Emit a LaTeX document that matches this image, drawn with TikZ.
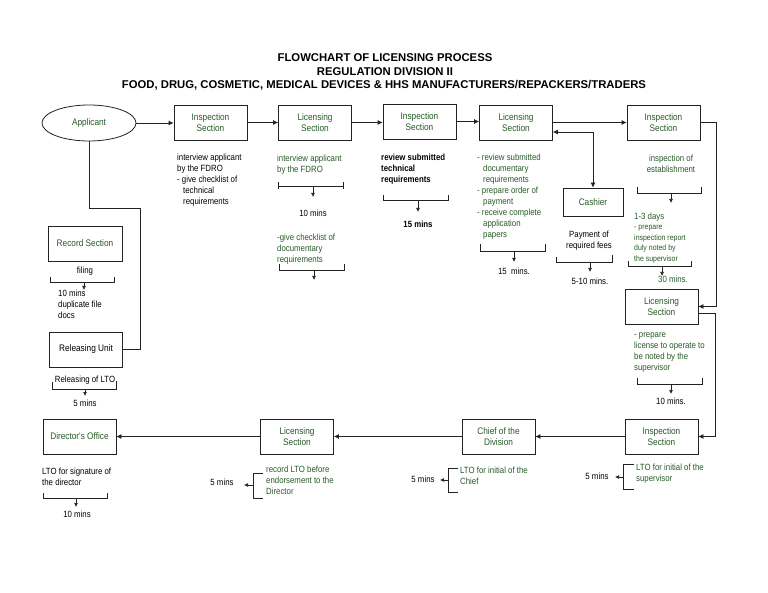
\documentclass[tikz,border=0pt]{standalone}
\usepackage{fontspec}
\setmainfont{Liberation Sans}
\newfontfamily\narrowfont[FakeStretch=0.87]{Liberation Sans}
\usetikzlibrary{arrows.meta,shapes.geometric}
\definecolor{tgreen}{RGB}{40,90,40}
\definecolor{lineclr}{RGB}{35,35,35}
\tikzset{
  box/.style={draw=lineclr, line width=0.8pt, minimum width=73pt, minimum height=35pt,
    align=center, font=\narrowfont\fontsize{9.5}{11}\selectfont, text=tgreen, inner sep=1pt},
  flow/.style={draw=lineclr, line width=0.8pt, -{Latex[length=5pt,width=5pt]}},
  conn/.style={draw=lineclr, line width=0.8pt},
  note/.style={font=\narrowfont\fontsize{9}{11}\selectfont, align=left, inner sep=0pt, anchor=north west},
  cnote/.style={font=\narrowfont\fontsize{9}{11}\selectfont, align=center, inner sep=0pt},
  brk/.style={draw=lineclr, line width=0.7pt},
  tipline/.style={draw=lineclr, line width=0.7pt, -{Latex[length=4pt,width=4pt]}},
  ttl/.style={font=\bfseries\fontsize{11.3}{12}\selectfont, inner sep=0pt}
}
\begin{document}
\begin{tikzpicture}[x=1pt,y=-1pt]
\useasboundingbox (0,0) rectangle (768,593);
\fill[white] (0,0) rectangle (768,593);

% title
\node[ttl] (t1) at (385,58) {FLOWCHART OF LICENSING PROCESS};
\node[ttl] (t2) at (385,71.5) {REGULATION DIVISION II};
\node[ttl] (t3) at (384,85.5) {FOOD, DRUG, COSMETIC, MEDICAL DEVICES \& HHS MANUFACTURERS/REPACKERS/TRADERS};

% boxes
\node[ellipse, draw=lineclr, line width=0.8pt, minimum width=94pt, minimum height=36pt,
  font=\narrowfont\fontsize{9.5}{11}\selectfont, text=tgreen] (app) at (89,123) {Applicant};
\node[box] (ins1) at (210.5,122.5) {Inspection\\Section};
\node[box] (lic1) at (315,122.5) {Licensing\\Section};
\node[box] (ins2) at (419.5,121.5) {Inspection\\Section};
\node[box] (lic2) at (516,122.5) {Licensing\\Section};
\node[box] (ins3) at (663.5,122.5) {Inspection\\Section};
\node[box, minimum width=60pt, minimum height=28pt] (cash) at (593,202) {Cashier};
\node[box, minimum width=74pt] (rec) at (85,243.5) {Record Section};
\node[box, text=black] (rel) at (86,349.5) {Releasing Unit};
\node[box] (lic3) at (661.5,306.5) {Licensing\\Section};
\node[box] (ins4) at (661.5,436.5) {Inspection\\Section};
\node[box] (chief) at (498.5,436.5) {Chief of the\\Division};
\node[box] (lic4) at (297,436.5) {Licensing\\Section};
\node[box] (dir) at (79.5,436.5) {Director's Office};

% main connectors
\draw[flow] (app.east) -- (ins1.west |- app.east);
\draw[flow] (ins1) -- (lic1);
\draw[flow] (lic1) -- (ins2.west |- lic1);
\draw[flow] (ins2.east) -- (lic2.west |- ins2.east);
\draw[flow] (lic2) -- (ins3);
\coordinate (cj) at (593,132);
\draw[conn, {Latex[length=5pt,width=5pt]}-{Latex[length=5pt,width=5pt]}] (lic2.east |- cj) -- (cj) -- (cash.north);
\draw[flow] (ins3.east) -- ++(16,0) |- (lic3.east);
\draw[flow] ([yshift=-7pt]lic3.east) -- ++(17,0) |- (ins4.east);
\draw[flow] (ins4) -- (chief);
\draw[flow] (chief) -- (lic4);
\draw[flow] (lic4) -- (dir);
\draw[conn] (app.south) -- (89,208) -- (140,208) -- (140,349.5) -- (rel.east);

% Inspection 1 note
\node[note, text=black] (n1) at (177,154) {interview applicant\\by the FDRO\\- give checklist of\\\hspace*{6pt}technical\\\hspace*{6pt}requirements};

% Licensing 1 notes
\node[note, text=tgreen] (n2) at (277,154.5) {interview applicant\\by the FDRO};
\draw[brk] (278,182) -- (278,189) (343,182) -- (343,189) (278,186) -- (343,186);
\draw[tipline] (313,186) -- (313,197);
\node[cnote, text=black] (n2t) at (313,213) {10 mins};
\node[note, text=tgreen] (n3) at (277,233.5) {-give checklist of\\documentary\\requirements};
\draw[brk] (279,264) -- (279,270) -- (344,270) -- (344,264);
\draw[tipline] (314,270) -- (314,280);

% Inspection 2 notes
\node[note, text=black, font=\narrowfont\bfseries\fontsize{9}{11}\selectfont] (n4) at (381,153.5) {review submitted\\technical\\requirements};
\draw[brk] (383,195) -- (383,200.5) -- (448,200.5) -- (448,195);
\draw[tipline] (418,200.5) -- (418,212);
\node[cnote, text=black, font=\narrowfont\bfseries\fontsize{9}{11}\selectfont] (n4t) at (418,224) {15 mins};

% Licensing 2 notes
\node[note, text=tgreen] (n5) at (477,154) {- review submitted\\\hspace*{6pt}documentary\\\hspace*{6pt}requirements\\- prepare order of\\\hspace*{6pt}payment\\- receive complete\\\hspace*{6pt}application\\\hspace*{6pt}papers};
\draw[brk] (480,244) -- (480,251.5) -- (545,251.5) -- (545,244);
\draw[tipline] (514,251.5) -- (514,262);
\node[cnote, text=black] (n5t) at (514,271.5) {15\ \ mins.};

% Cashier notes
\node[cnote, text=black] (n6) at (589,241) {Payment of\\required fees};
\draw[brk] (556,257) -- (556,262) -- (612,262) -- (612,255);
\draw[tipline] (590,262) -- (590,272);
\node[cnote, text=black] (n6t) at (590,281) {5-10 mins.};

% Inspection 3 notes
\node[cnote, text=tgreen] (n7) at (671,164) {inspection of\\establishment};
\draw[brk] (637,187) -- (637,193) -- (701,193) -- (701,187);
\draw[tipline] (671,193) -- (671,203);
\node[note, text=tgreen] (n8) at (634,213) {1-3 days\\[-1pt]{\fontsize{8}{10.5}\selectfont - prepare}\\[-0.5pt]{\fontsize{8}{10.5}\selectfont inspection report}\\[-0.5pt]{\fontsize{8}{10.5}\selectfont duly noted by}\\[-0.5pt]{\fontsize{8}{10.5}\selectfont the supervisor}};
\draw[brk] (628,261) -- (628,266) -- (691,266) -- (691,261);
\draw[tipline] (662,266) -- (662,276);
\node[cnote, text=tgreen] (n8t) at (673,279.5) {30 mins.};

% Licensing 3 notes
\node[note, text=tgreen] (n9) at (634,332) {- prepare\\license to operate to\\be noted by the\\supervisor};
\draw[brk] (637,378) -- (637,384) -- (702,384) -- (702,378);
\draw[tipline] (671,384) -- (671,394);
\node[cnote, text=black] (n9t) at (671,401.5) {10 mins.};

% Record section notes
\node[cnote, text=black] (n10) at (85,271.5) {filing};
\draw[brk] (50,277) -- (50,282) -- (114,282) -- (114,277);
\draw[tipline] (84,282) -- (84,290);
\node[note, text=black] (n10t) at (58,290) {10 mins\\duplicate file\\docs};

% Releasing notes
\node[cnote, text=black] (n11) at (85,380) {Releasing of LTO};
\draw[brk] (52,382) -- (52,389) -- (116,389) -- (116,381);
\draw[tipline] (85,389) -- (85,396);
\node[cnote, text=black] (n11t) at (85,403) {5 mins};

% Director notes
\node[note, text=black] (n12) at (42,468) {LTO for signature of\\the director};
\draw[brk] (43,493) -- (43,498) -- (107,498) -- (107,493);
\draw[tipline] (76,498) -- (76,507);
\node[cnote, text=black] (n12t) at (77,514) {10 mins};

% Licensing 4 notes
\node[note, text=tgreen] (n13) at (266,466) {record LTO before\\endorsement to the\\Director};
\draw[brk] (263,473) -- (253,473) -- (253,498) -- (263,498);
\draw[tipline] (253,485) -- (244,485);
\node[cnote, text=black] (n13t) at (222,482.5) {5 mins};

% Chief notes
\node[note, text=tgreen] (n14) at (460,467) {LTO for initial of the\\Chief};
\draw[brk] (458,468) -- (448,468) -- (448,492) -- (458,492);
\draw[tipline] (448,480) -- (440,480);
\node[cnote, text=black] (n14t) at (423,479.5) {5 mins};

% Inspection 4 notes
\node[note, text=tgreen] (n15) at (636,464) {LTO for initial of the\\supervisor};
\draw[brk] (634,464) -- (623,464) -- (623,489) -- (634,489);
\draw[tipline] (623,477) -- (615,477);
\node[cnote, text=black] (n15t) at (597,476.5) {5 mins};
\end{tikzpicture}
\end{document}
